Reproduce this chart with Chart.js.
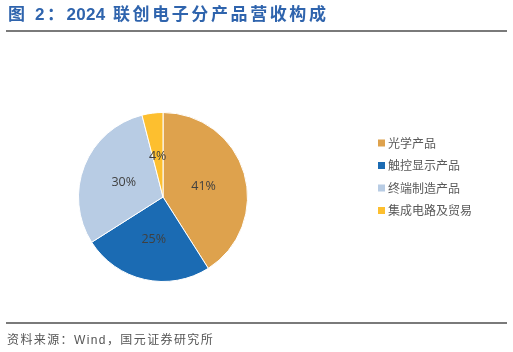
<!DOCTYPE html>
<html><head><meta charset="utf-8">
<script src="https://cdn.jsdelivr.net/npm/chart.js@4/dist/chart.umd.min.js"></script>
<style>
html,body{margin:0;padding:0;background:#fff;width:513px;height:352px;overflow:hidden;}
#wrap{position:relative;width:513px;height:352px;}
#title{position:absolute;left:8px;top:3px;font-family:"Liberation Sans","Noto Sans CJK SC",sans-serif;font-weight:bold;font-size:17px;color:#2f64ad;letter-spacing:2.6px;white-space:nowrap;line-height:24px;}
#title .num{letter-spacing:0.3px;}
.rule{position:absolute;left:6px;width:501px;height:2px;background:#7a7a7a;}
#src{position:absolute;left:7px;top:331px;font-family:"Liberation Sans","Noto Sans CJK SC",sans-serif;font-size:12px;color:#555;white-space:nowrap;line-height:18px;letter-spacing:1.4px;}
canvas{position:absolute;left:0;top:0;}
</style></head>
<body><div id="wrap">
<canvas id="c" width="513" height="352"></canvas>
<div id="title">图 2：<span class="num">2024</span> 联创电子分产品营收构成</div>
<div class="rule" style="top:30px"></div>
<div class="rule" style="top:322px"></div>
<div id="src">资料来源：Wind，国元证券研究所</div>
</div>
<script>
const categories = ["光学产品", "触控显示产品", "终端制造产品", "集成电路及贸易"];
const shares = [41, 25, 30, 4];
const colors = ["#dea24d", "#1b6bb3", "#b8cce4", "#fdbf2f"];

const labelPlugin = {
  id: 'sliceLabels',
  afterDatasetsDraw(chart) {
    const ctx = chart.ctx;
    const meta = chart.getDatasetMeta(0);
    ctx.save();
    ctx.font = '12.5px "Open Sans", "DejaVu Sans", sans-serif';
    ctx.fillStyle = '#404040';
    ctx.textAlign = 'center';
    ctx.textBaseline = 'middle';
    meta.data.forEach((arc, i) => {
      const p = arc.tooltipPosition();
      ctx.fillText(chart.data.datasets[0].data[i] + '%', p.x, p.y + 1);
    });
    ctx.restore();
  }
};

const legendPlugin = {
  id: 'sideLegend',
  afterDraw(chart) {
    const ctx = chart.ctx;
    ctx.save();
    ctx.font = '12px "Noto Sans CJK SC", sans-serif';
    ctx.textAlign = 'left';
    ctx.textBaseline = 'middle';
    chart.data.labels.forEach((lab, i) => {
      const y = 143 + i * 22.5;
      ctx.fillStyle = chart.data.datasets[0].backgroundColor[i];
      ctx.fillRect(378, y - 3.5, 7, 7);
      ctx.fillStyle = '#595959';
      ctx.fillText(lab, 388, y);
    });
    ctx.restore();
  }
};

new Chart(document.getElementById('c'), {
  type: 'pie',
  data: {
    labels: categories,
    datasets: [{ data: shares, backgroundColor: colors, borderColor: '#ffffff', borderWidth: 1 }]
  },
  options: {
    responsive: false,
    animation: false,
    layout: { padding: { left: 78, right: 265, top: 112, bottom: 70 } },
    plugins: { legend: { display: false }, tooltip: { enabled: false } }
  },
  plugins: [labelPlugin, legendPlugin]
});
</script>
</body></html>
